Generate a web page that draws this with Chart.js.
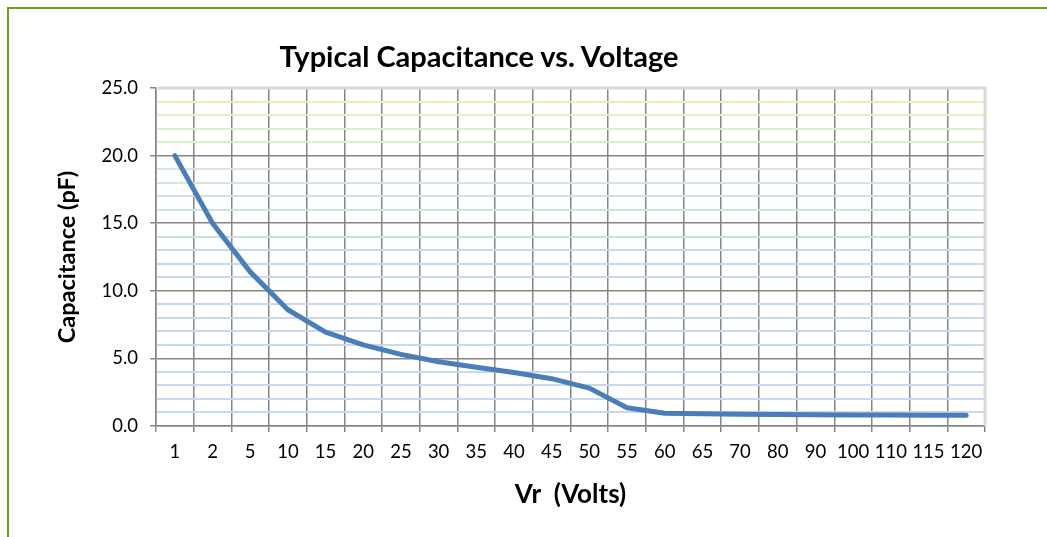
<!DOCTYPE html>
<html>
<head>
<meta charset="utf-8">
<title>Typical Capacitance vs. Voltage</title>
<script src="https://cdn.jsdelivr.net/npm/chart.js@4.4.0/dist/chart.umd.min.js"></script>
<style>
  html, body { margin: 0; padding: 0; background: #fff; }
  #wrap { position: relative; width: 1047px; height: 537px; overflow: hidden; }
  #frame { position: absolute; left: 7px; top: 7px; width: 1100px; height: 600px;
           border-left: 2px solid #6ea21b; border-top: 2px solid #6ea21b; }
  #title { position: absolute; left: 0; top: 39px; width: 958px; text-align: center;
           font: bold 29px Lato, sans-serif; line-height: 34px; color: #000; }
  canvas { position: absolute; left: 0; top: 0; }
</style>
</head>
<body>
<div id="wrap">
  <div id="frame"></div>
  <canvas id="capChart" width="1047" height="537"></canvas>
  <div id="title">Typical Capacitance vs. Voltage</div>
</div>
<script>
// data
const voltages = ['1', '2', '5', '10', '15', '20', '25', '30', '35', '40', '45', '50',
                  '55', '60', '65', '70', '80', '90', '100', '110', '115', '120'];
const capacitance = [20.0, 15.0, 11.4, 8.6, 6.95, 6.0, 5.3, 4.75, 4.35, 3.95, 3.5, 2.8,
                     1.35, 0.95, 0.9, 0.87, 0.85, 0.83, 0.82, 0.81, 0.8, 0.8];
const yMajorTicks = [0, 5, 10, 15, 20, 25];

const MAJOR = '#868686';

// minor lines fade from light green at the top to light blue lower down
function minorColor(v) {
    const t = Math.max(0, Math.min(1, (v - 12) / 12));
    const blue = [200, 216, 240], green = [222, 245, 192];
    const c = blue.map((b, i) => Math.round(b + (green[i] - b) * t));
    return `rgb(${c[0]},${c[1]},${c[2]})`;
}

const plotFrame = {
    id: 'plotFrame',
    beforeDatasetsDraw(chart) {
        const { ctx, chartArea: a } = chart;
        ctx.save();
        ctx.strokeStyle = '#d9d9d9';
        ctx.lineWidth = 3;
        ctx.beginPath();
        ctx.moveTo(a.left, a.top);
        ctx.lineTo(a.right, a.top);
        ctx.lineTo(a.right, a.bottom);
        ctx.stroke();
        ctx.restore();
    }
};

const tickFont = { family: 'Lato', size: 18.5 };

new Chart(document.getElementById('capChart'), {
    type: 'line',
    data: {
        labels: voltages,
        datasets: [{
            data: capacitance,
            borderColor: '#4a7ebb',
            borderWidth: 5,
            pointRadius: 0,
            tension: 0,
            borderJoinStyle: 'round',
            borderCapStyle: 'round'
        }]
    },
    options: {
        responsive: false,
        devicePixelRatio: 1,
        animation: false,
        layout: { padding: { top: 88, right: 62, bottom: 0, left: 10 } },
        plugins: { legend: { display: false }, tooltip: { enabled: false } },
        scales: {
            x: {
                type: 'category',
                offset: true,
                afterFit: s => { s.height = 111; },
                grid: { offset: true, color: MAJOR, lineWidth: 1.5, tickLength: 6, tickColor: MAJOR },
                border: { color: MAJOR, width: 1.5 },
                ticks: { font: tickFont, color: '#000', padding: 9, autoSkip: false, maxRotation: 0 },
                title: { display: true, text: 'Vr  (Volts)', font: { family: 'Lato', size: 26, weight: 'bold' },
                         color: '#000', padding: { top: 0, bottom: 27 } }
            },
            y: {
                min: 0,
                max: 25,
                afterFit: s => { s.width = 146; },
                grid: {
                    color: c => (c.tick.value % 5 === 0 ? MAJOR : minorColor(c.tick.value)),
                    lineWidth: c => (c.tick.value % 5 === 0 ? 1.5 : 2),
                    tickLength: 6,
                    tickColor: c => (yMajorTicks.includes(c.tick.value) ? MAJOR : 'rgba(0,0,0,0)')
                },
                border: { color: MAJOR, width: 1.5 },
                ticks: {
                    stepSize: 1,
                    autoSkip: false,
                    font: tickFont,
                    color: '#000',
                    padding: 12,
                    callback: v => (yMajorTicks.includes(v) ? v.toFixed(1) : '')
                },
                title: { display: true, text: 'Capacitance (pF)', font: { family: 'Lato', size: 23.5, weight: 'bold' },
                         color: '#000', padding: { top: 43, bottom: 0 } }
            }
        }
    },
    plugins: [plotFrame]
});
</script>
</body>
</html>
